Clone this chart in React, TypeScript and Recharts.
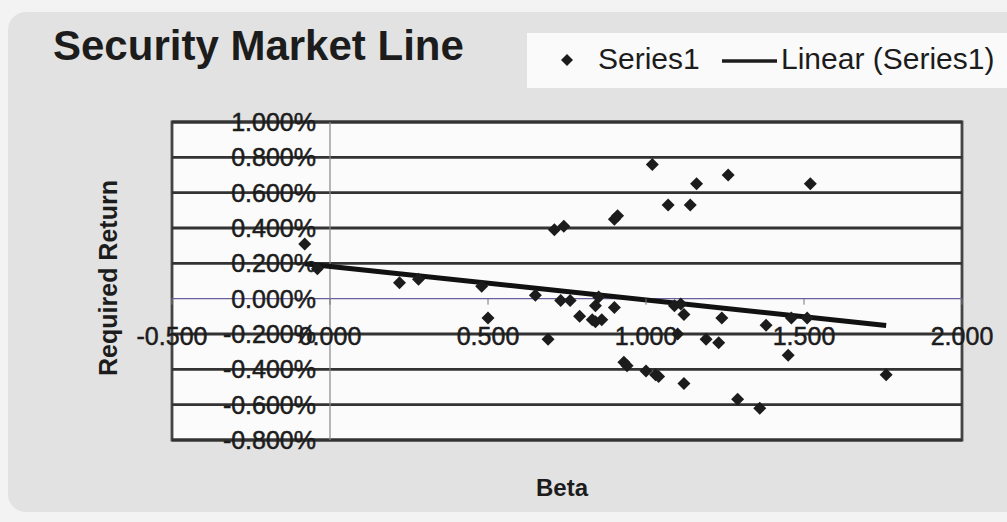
import React from 'react'
import {
  ComposedChart,
  Scatter,
  Line,
  XAxis,
  YAxis,
  CartesianGrid,
  ReferenceLine,
  ReferenceArea,
} from 'recharts'

// beta of each security and its return (in %)
const betas = [
  -0.08, -0.04, 0.22, 0.28, 0.48, 0.5, 0.65, 0.69, 0.71, 0.74, 0.73, 0.76, 0.79, 0.84, 0.85, 0.83,
  0.84, 0.86, 0.9, 0.9, 0.91, 1.02, 1.07, 1.14, 1.16, 1.26, 1.52, 1.09, 1.11, 1.12, 1.24, 1.38,
  1.46, 1.51, 1.1, 1.19, 1.23, 1.45, 0.93, 0.94, 1.0, 1.03, 1.04, 1.12, 1.29, 1.36, 1.76,
]
const returns = [
  0.31, 0.17, 0.09, 0.11, 0.07, -0.11, 0.02, -0.23, 0.39, 0.41, -0.01, -0.01, -0.1, -0.04, 0.01, -0.12,
  -0.13, -0.12, -0.05, 0.45, 0.47, 0.76, 0.53, 0.53, 0.65, 0.7, 0.65, -0.04, -0.03, -0.09, -0.11, -0.15,
  -0.11, -0.11, -0.2, -0.23, -0.25, -0.32, -0.36, -0.38, -0.41, -0.43, -0.44, -0.48, -0.57, -0.62, -0.43,
]

// Linear (Series1) end points as drawn
const trendBetas = [-0.08, 1.76]
const trendReturns = [0.198, -0.152]

const xTicks = [-0.5, 0, 0.5, 1, 1.5, 2]
const yTicks = [1, 0.8, 0.6, 0.4, 0.2, 0, -0.2, -0.4, -0.6, -0.8]

const W = 1007
const H = 522
const PLOT_LEFT = 172
const PLOT_RIGHT = 962
const PLOT_TOP = 122
const PLOT_BOTTOM = 440
const AXIS_SIZE = 30
const X_MIN = -0.5
const X_MAX = 2
const Y_MIN = -0.8
const Y_MAX = 1

const zeroX = PLOT_LEFT + ((0 - X_MIN) / (X_MAX - X_MIN)) * (PLOT_RIGHT - PLOT_LEFT)
const zeroY = PLOT_TOP + ((Y_MAX - 0) / (Y_MAX - Y_MIN)) * (PLOT_BOTTOM - PLOT_TOP)

const FONT = '"Liberation Sans", Arial, sans-serif'
const INK = '#1c1c1c'

const points = betas.map((b, i) => ({ x: b, y: returns[i] }))
const trend = trendBetas.map((b, i) => ({ x: b, y: trendReturns[i] }))

const Diamond = (props: any) => {
  const { cx, cy } = props
  if (cx == null || cy == null) return null
  const r = 6.5
  return <polygon points={`${cx},${cy - r} ${cx + r},${cy} ${cx},${cy + r} ${cx - r},${cy}`} fill={INK} />
}

// scanned labels look a bit heavy, so give them a thin outline
const renderXTick = (props: any) => {
  const { x, payload } = props
  return (
    <g key={`xt${payload.value}`}>
      <line x1={x} x2={x} y1={zeroY} y2={zeroY + 6} stroke="#777" strokeWidth={1} />
      <text
        x={x}
        y={zeroY + 46}
        textAnchor="middle"
        fontSize={25}
        fontFamily={FONT}
        fill={INK}
        stroke={INK}
        strokeWidth={0.5}
      >
        {Number(payload.value).toFixed(3)}
      </text>
    </g>
  )
}

const renderYTick = (props: any) => {
  const { y, payload } = props
  return (
    <text
      key={`yt${payload.value}`}
      x={zeroX - 14}
      y={y + 9}
      textAnchor="end"
      fontSize={25}
      fontFamily={FONT}
      fill={INK}
      stroke={INK}
      strokeWidth={0.5}
    >
      {`${Number(payload.value).toFixed(3)}%`}
    </text>
  )
}

export default function App() {
  return (
    <div style={{ position: 'absolute', left: 0, top: 0, width: W, height: H, background: '#f3f3f3', overflow: 'hidden' }}>
      <div
        style={{
          position: 'absolute',
          left: 8,
          top: 12,
          width: W + 20,
          height: 500,
          background: '#e2e2e2',
          borderRadius: 18,
        }}
      />
      <div
        style={{
          position: 'absolute',
          left: 53,
          top: 22,
          fontFamily: FONT,
          fontWeight: 'bold',
          fontSize: 42,
          color: INK,
          whiteSpace: 'nowrap',
        }}
      >
        Security Market Line
      </div>
      <div
        style={{
          position: 'absolute',
          left: 527,
          top: 33,
          width: W,
          height: 55,
          background: '#fafafa',
        }}
      >
        <svg width={W} height={55} style={{ position: 'absolute', left: 0, top: 0 }}>
          <polygon points="40,21 46,27 40,33 34,27" fill={INK} />
          <line x1={195} x2={250} y1={28} y2={28} stroke={INK} strokeWidth={3.5} />
        </svg>
        <div
          style={{
            position: 'absolute',
            left: 71,
            top: 9,
            fontFamily: FONT,
            fontSize: 30,
            color: INK,
            whiteSpace: 'nowrap',
          }}
        >
          Series1
        </div>
        <div
          style={{
            position: 'absolute',
            left: 254,
            top: 9,
            fontFamily: FONT,
            fontSize: 30,
            color: INK,
            whiteSpace: 'nowrap',
          }}
        >
          Linear (Series1)
        </div>
      </div>
      <div
        style={{
          position: 'absolute',
          left: 108,
          top: 278,
          transform: 'translate(-50%, -50%) rotate(-90deg)',
          fontFamily: FONT,
          fontWeight: 'bold',
          fontSize: 25,
          color: INK,
          whiteSpace: 'nowrap',
        }}
      >
        Required Return
      </div>
      <div
        style={{
          position: 'absolute',
          left: 562,
          top: 488,
          transform: 'translate(-50%, -50%)',
          fontFamily: FONT,
          fontWeight: 'bold',
          fontSize: 24,
          color: INK,
          whiteSpace: 'nowrap',
        }}
      >
        Beta
      </div>
      <div style={{ position: 'absolute', left: 0, top: 0 }}>
        <ComposedChart
          width={W}
          height={H}
          margin={{
            top: PLOT_TOP,
            right: W - PLOT_RIGHT,
            bottom: H - PLOT_BOTTOM - AXIS_SIZE,
            left: PLOT_LEFT - AXIS_SIZE,
          }}
        >
          <CartesianGrid horizontal={false} vertical={false} fill="#fbfbfb" />
          <XAxis
            type="number"
            dataKey="x"
            domain={[X_MIN, X_MAX]}
            ticks={xTicks}
            height={AXIS_SIZE}
            axisLine={false}
            tickLine={false}
            tick={renderXTick}
            interval={0}
            allowDataOverflow
          />
          <YAxis
            type="number"
            dataKey="y"
            domain={[Y_MIN, Y_MAX]}
            ticks={yTicks}
            width={AXIS_SIZE}
            axisLine={false}
            tickLine={false}
            tick={renderYTick}
            interval={0}
            allowDataOverflow
          />
          {yTicks
            .filter((v) => v !== 0)
            .map((v) => (
              <ReferenceLine key={`g${v}`} y={v} stroke="#333" strokeWidth={2.8} />
            ))}
          <ReferenceLine y={0} stroke="#6a5f9a" strokeWidth={1.2} />
          <ReferenceLine x={0} stroke="#888" strokeWidth={1.2} />
          <ReferenceArea x1={X_MIN} x2={X_MAX} y1={Y_MIN} y2={Y_MAX} fill="none" stroke="#444" strokeWidth={2.8} />
          <Line
            data={trend}
            dataKey="y"
            stroke="#111"
            strokeWidth={5}
            dot={false}
            activeDot={false}
            isAnimationActive={false}
            legendType="none"
          />
          <Scatter data={points} dataKey="y" shape={<Diamond />} isAnimationActive={false} />
        </ComposedChart>
      </div>
    </div>
  )
}
